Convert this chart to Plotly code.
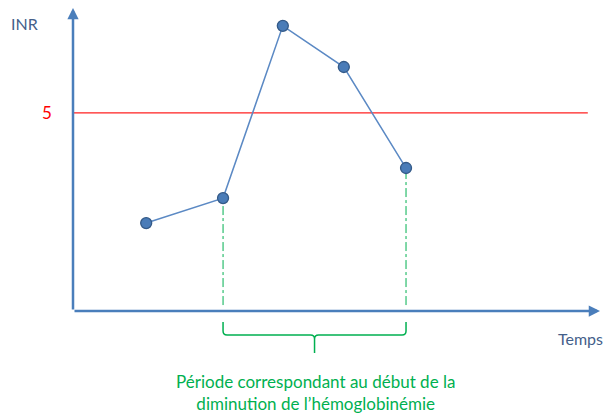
import plotly.graph_objects as go

# Data
temps = [1.2, 2.46, 3.44, 4.44, 5.46]
inr = [2.22, 2.85, 7.2, 6.16, 3.61]
seuil = 5
periode_idx = [1, 4]  # start / end of the highlighted period

X_MAX = 8.64
Y_MAX = 7.65

axis_col = "#4A7EBB"
green = "#00B050"
txt_col = "#44608A"
font = "Lato"

fig = go.Figure()

# dash-dot drop lines
for i in periode_idx:
    fig.add_shape(type="line", xref="x", yref="y", x0=temps[i], x1=temps[i],
                  y0=0.15, y1=inr[i], line=dict(color=green, width=1, dash="dashdot"), layer="below")

# threshold line
fig.add_shape(type="line", xref="x", yref="y", x0=0, x1=8.44, y0=seuil, y1=seuil,
              line=dict(color="#FF2020", width=1.2), layer="below")

fig.add_trace(go.Scatter(
    x=temps, y=inr, mode="lines+markers",
    line=dict(color="#5B89C4", width=1.5),
    marker=dict(size=11, color="#4A7CB8", line=dict(color="#345A88", width=1.3)),
    cliponaxis=False, hoverinfo="skip", showlegend=False))

# brace below x axis (x in data units, y in paper units)
xa, xb = temps[periode_idx[0]], temps[periode_idx[1]]
xm = (xa + xb) / 2
u = 1 / 61.0  # data units per pixel horizontally
v = 1 / 303.0  # paper units per pixel vertically
yt, ym, yb = -11 * v, -24 * v, -42 * v
r = 4
path = (f"M {xa},{yt} L {xa},{ym + r*v} Q {xa},{ym} {xa + r*u},{ym} "
        f"L {xm - r*u},{ym} Q {xm},{ym} {xm},{ym - r*v} L {xm},{yb} "
        f"M {xm},{ym - r*v} Q {xm},{ym} {xm + r*u},{ym} "
        f"L {xb - r*u},{ym} Q {xb},{ym} {xb},{ym + r*v} L {xb},{yt}")
fig.add_shape(type="path", xref="x", yref="paper", path=path,
              line=dict(color=green, width=1.5))

# axes with arrows
fig.add_annotation(xref="paper", yref="paper", x=0, y=1.0, ax=0, ay=303, axref="pixel", ayref="pixel",
                   text="", showarrow=True, arrowhead=2, arrowsize=0.9, arrowwidth=2.5, arrowcolor=axis_col)
fig.add_annotation(xref="paper", yref="paper", x=1.0, y=0, ax=-527, ay=0,
                   text="", showarrow=True, arrowhead=2, arrowsize=0.9, arrowwidth=2.5, arrowcolor=axis_col)

def px(x):
    return (x - 73) / 527.0

def py(y):
    return (311 - y) / 303.0

def label(x, y, text, size, color):
    fig.add_annotation(xref="paper", yref="paper", x=px(x), y=py(y), text=text, showarrow=False,
                       xanchor="center", yanchor="middle",
                       font=dict(family=font, size=size, color=color))

label(24, 24, "INR", 16, txt_col)
label(47, 113, str(seuil), 17, "#FF0000")
label(580, 338, "Temps", 16, txt_col)
label(315, 392, "Période correspondant au début de la<br>diminution de l’hémoglobinémie", 17, green)

fig.update_xaxes(range=[0, X_MAX], visible=False)
fig.update_yaxes(range=[0, Y_MAX], visible=False)
fig.update_layout(width=604, height=414, margin=dict(l=73, r=4, t=8, b=103),
                  plot_bgcolor="white", paper_bgcolor="white")

fig.write_html("out.html", config={"displayModeBar": False},
               post_script="document.body.style.margin='0';")
